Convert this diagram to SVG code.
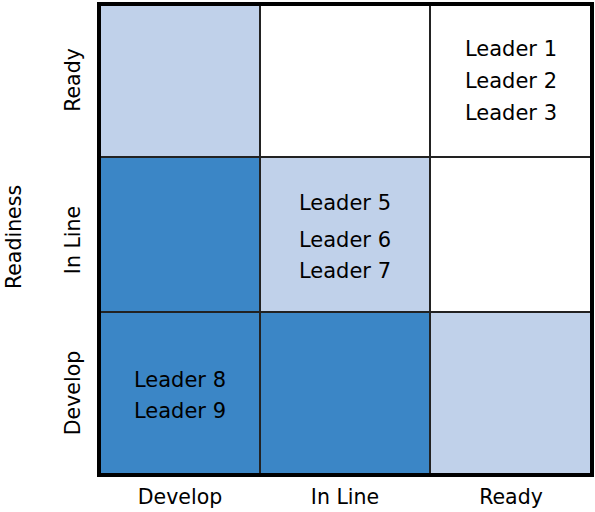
<svg xmlns="http://www.w3.org/2000/svg" width="595" height="512" viewBox="0 0 595 512">
<style>
.cell{stroke:#222;stroke-width:2}
.lt{fill:#c0d1ea}
.dk{fill:#3b86c6}
.wh{fill:#ffffff}
text{font-family:"DejaVu Sans",Verdana,sans-serif;font-size:20.5px;fill:#000;text-anchor:middle}
.ld{font-size:21px}
</style>
<rect width="595" height="512" fill="#fff"/>
<g id="cells">
<g id="c11"><rect class="cell lt" x="99" y="4" width="161" height="153"/></g>
<g id="c12"><rect class="cell wh" x="260" y="4" width="170" height="153"/></g>
<g id="c13"><rect class="cell wh" x="430" y="4" width="162" height="153"/>
<text class="ld" x="511" y="56">Leader 1</text>
<text class="ld" x="511" y="88">Leader 2</text>
<text class="ld" x="511" y="120">Leader 3</text></g>
<g id="c21"><rect class="cell dk" x="99" y="157" width="161" height="155"/></g>
<g id="c22"><rect class="cell lt" x="260" y="157" width="170" height="155"/>
<text class="ld" x="345" y="210">Leader 5</text>
<text class="ld" x="345" y="247">Leader 6</text>
<text class="ld" x="345" y="278">Leader 7</text></g>
<g id="c23"><rect class="cell wh" x="430" y="157" width="162" height="155"/></g>
<g id="c31"><rect class="cell dk" x="99" y="312" width="161" height="163"/>
<text class="ld" x="180" y="387">Leader 8</text>
<text class="ld" x="180" y="418">Leader 9</text></g>
<g id="c32"><rect class="cell dk" x="260" y="312" width="170" height="163"/></g>
<g id="c33"><rect class="cell lt" x="430" y="312" width="162" height="163"/></g>
</g>
<g id="frame"><rect x="99" y="4" width="493" height="471" fill="none" stroke="#000" stroke-width="4"/></g>
<g id="xlabels">
<text x="180" y="504">Develop</text>
<text x="345" y="504">In Line</text>
<text x="511" y="504">Ready</text>
</g>
<g id="ylabels">
<text transform="translate(80,80) rotate(-90)">Ready</text>
<text transform="translate(80,240) rotate(-90)">In Line</text>
<text transform="translate(80,393) rotate(-90)">Develop</text>
<text transform="translate(21,237) rotate(-90)">Readiness</text>
</g>
</svg>
